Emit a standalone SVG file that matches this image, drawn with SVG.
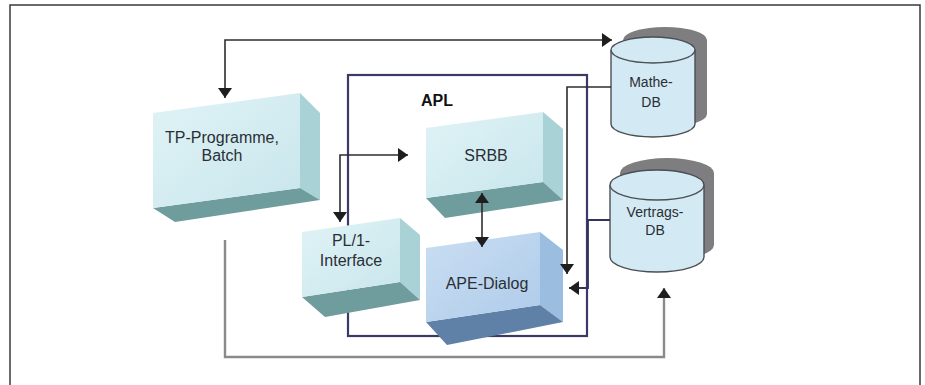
<svg xmlns="http://www.w3.org/2000/svg" width="925" height="385" viewBox="0 0 925 385">
  <defs>
    <style>
      .lbl { font-family: "Liberation Sans", Arial, sans-serif; font-size: 16px; fill: #2a2f35; text-anchor: middle; }
      .db { font-size: 14px; }
      .bold { font-weight: bold; fill: #111; }
      .frame { fill: none; stroke: #3a3a3a; stroke-width: 1.5; }
      .apl { fill: none; stroke: #3b3a66; stroke-width: 2.2; }
      .wire { fill: none; stroke: #2e2e2e; stroke-width: 1.6; }
      .wire-navy { fill: none; stroke: #34345a; stroke-width: 1.8; }
      .wire-grey { fill: none; stroke: #8a8a8a; stroke-width: 2.4; }
      .cyl { fill: #d3e9f3; stroke: #4a4f55; stroke-width: 1.4; }
      .cyl-shadow { fill: #7e7e80; }
      .teal-front { fill: url(#tealFront); }
      .teal-side { fill: #a8d2d5; }
      .teal-bottom { fill: #6f9c9d; }
      .blue-front { fill: url(#blueFront); }
      .blue-side { fill: #9bbddf; }
      .blue-bottom { fill: #5f81a8; }
    </style>
    <linearGradient id="tealFront" x1="0" y1="0" x2="1" y2="1">
      <stop offset="0" stop-color="#e0f3f6"/>
      <stop offset="1" stop-color="#c8e6ec"/>
    </linearGradient>
    <linearGradient id="blueFront" x1="0" y1="0" x2="1" y2="1">
      <stop offset="0" stop-color="#c9def2"/>
      <stop offset="1" stop-color="#afcbea"/>
    </linearGradient>
    <marker id="arr" viewBox="0 0 10 14" refX="10" refY="7" markerWidth="10" markerHeight="14" markerUnits="userSpaceOnUse" orient="auto-start-reverse">
      <path d="M0,0 L10,7 L0,14 z" fill="#1e1e1e"/>
    </marker>
  </defs>

  <rect width="925" height="385" fill="#ffffff"/>

  <!-- outer border, open at the bottom -->
  <path class="frame" d="M10,385 V5 H920 V385"/>

  <!-- APL boundary, drawn behind the blocks -->
  <g id="apl">
    <rect class="apl" x="348" y="75" width="239" height="261"/>
    <text class="lbl bold" x="437" y="106">APL</text>
  </g>

  <g id="tp-programme">
    <polygon class="teal-side" points="300,93 320,113 320,200 300,188"/>
    <polygon class="teal-bottom" points="153,208 300,188 320,200 175,222"/>
    <polygon class="teal-front" points="153,113 300,93 300,188 153,208"/>
    <text class="lbl" x="222" y="143">TP-Programme,</text>
    <text class="lbl" x="222" y="161">Batch</text>
  </g>

  <g id="srbb">
    <polygon class="teal-side" points="543,112 563,129 563,200 543,182"/>
    <polygon class="teal-bottom" points="426,198 543,182 563,200 445,218"/>
    <polygon class="teal-front" points="426,128 543,112 543,182 426,198"/>
    <text class="lbl" x="486" y="161">SRBB</text>
  </g>

  <g id="pl1-interface">
    <polygon class="teal-side" points="400,218 420,235 420,300 400,282"/>
    <polygon class="teal-bottom" points="302,297 400,282 420,300 325,317"/>
    <polygon class="teal-front" points="302,232 400,218 400,282 302,297"/>
    <text class="lbl" x="351" y="246">PL/1-</text>
    <text class="lbl" x="351" y="266">Interface</text>
  </g>

  <g id="ape-dialog">
    <polygon class="blue-side" points="540,232 563,250 563,322 540,305"/>
    <polygon class="blue-bottom" points="426,322 540,305 563,322 447,345"/>
    <polygon class="blue-front" points="426,248 540,232 540,305 426,322"/>
    <text class="lbl" x="487" y="289">APE-Dialog</text>
  </g>

  <g id="mathe-db">
    <path class="cyl-shadow" d="M623,40 A42,13 0 0 1 707,40 V114 A42,13 0 0 1 623,114 z"/>
    <path class="cyl" d="M611,50 V124 A42,13 0 0 0 695,124 V50"/>
    <ellipse class="cyl" cx="653" cy="50" rx="42" ry="13"/>
    <text class="lbl db" x="651" y="87">Mathe-</text>
    <text class="lbl db" x="651" y="107">DB</text>
  </g>

  <g id="vertrags-db">
    <path class="cyl-shadow" d="M620,173 A47,15 0 0 1 714,173 V245 A47,15 0 0 1 620,245 z"/>
    <path class="cyl" d="M610,185 V257 A47,15 0 0 0 704,257 V185"/>
    <ellipse class="cyl" cx="657" cy="185" rx="47" ry="15"/>
    <text class="lbl db" x="655" y="217">Vertrags-</text>
    <text class="lbl db" x="655" y="235">DB</text>
  </g>

  <g id="connectors">
    <!-- TP-Programme <-> Mathe-DB -->
    <path class="wire" d="M225,98 V40 H612" marker-start="url(#arr)" marker-end="url(#arr)"/>
    <!-- PL/1-Interface <-> SRBB -->
    <path class="wire" d="M340,222 V155 H408" marker-start="url(#arr)" marker-end="url(#arr)"/>
    <!-- SRBB <-> APE-Dialog -->
    <path class="wire" d="M482,193 V247" marker-start="url(#arr)" marker-end="url(#arr)"/>
    <!-- Mathe-DB -> APE-Dialog -->
    <path class="wire" d="M611,87 H567 V274" marker-end="url(#arr)"/>
    <!-- Vertrags-DB -> APE-Dialog -->
    <path class="wire-navy" d="M610,220 H588 V288 H569" marker-end="url(#arr)"/>
    <!-- TP-Programme -> Vertrags-DB -->
    <path class="wire-grey" d="M225,240 V357 H664 V288" marker-end="url(#arr)"/>
  </g>
</svg>
